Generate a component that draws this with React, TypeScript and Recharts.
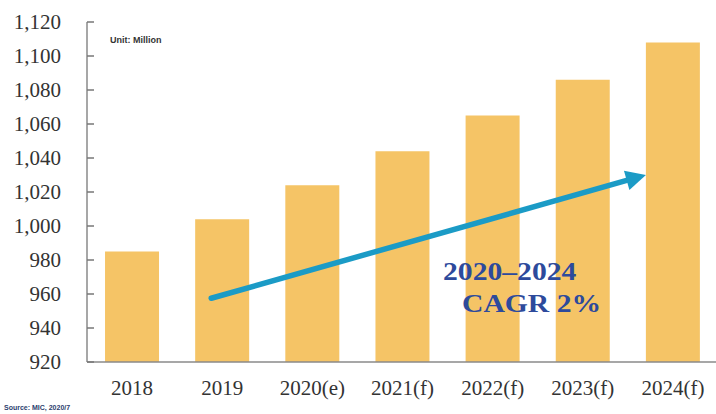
import React from 'react';
import { BarChart, Bar, XAxis, YAxis, ReferenceLine } from 'recharts';

const years = ['2018', '2019', '2020(e)', '2021(f)', '2022(f)', '2023(f)', '2024(f)'];
const units = [985, 1004, 1024, 1044, 1065, 1086, 1108];
const yTicks = [920, 940, 960, 980, 1000, 1020, 1040, 1060, 1080, 1100, 1120];
// arrow annotation: from near 2019 (low) to 2024(f)
const arrowFrom = { year: '2019', value: 957.5 };
const arrowTo = { year: '2024(f)', value: 1030 };

const data = years.map((year, i) => ({ year, units: units[i] }));

const serif = '"Liberation Serif", "DejaVu Serif", serif';

// tick lines point into the plot (negative tickSize), so labels are offset back out
const YTick = (props: any) => {
  const { x, y, payload } = props;
  return (
    <text x={x - 33} y={y} dy={7} textAnchor="end" fontFamily={serif} fontSize={21} fill="#333">
      {payload.value.toLocaleString('en-US')}
    </text>
  );
};

const Arrow = (props: any) => {
  const { x1, y1, x2, y2 } = props;
  // shift start/end to sit where the picture has them
  const sx = x1 - 11;
  const ex = x2 - 27;
  const ang = Math.atan2(y2 - y1, ex - sx);
  const len = 20;
  const half = 10;
  const bx = ex - len * Math.cos(ang);
  const by = y2 - len * Math.sin(ang);
  const px = -Math.sin(ang) * half;
  const py = Math.cos(ang) * half;
  return (
    <g>
      <line x1={sx} y1={y1} x2={bx} y2={by} stroke="#1b9bc6" strokeWidth={5.5} strokeLinecap="round" />
      <polygon points={`${ex},${y2} ${bx + px},${by + py} ${bx - px},${by - py}`} fill="#1b9bc6" />
    </g>
  );
};

const cagrStyle: React.CSSProperties = {
  position: 'absolute',
  fontFamily: serif,
  fontWeight: 700,
  fontSize: 26,
  lineHeight: '30px',
  color: '#2d4a9c',
  whiteSpace: 'nowrap',
  transform: 'scaleX(1.14)',
  transformOrigin: 'left top',
};

export default function App() {
  return (
    <div style={{ position: 'absolute', left: 0, top: 0, width: 716, height: 414, background: '#fff' }}>
      <BarChart
        width={716}
        height={414}
        data={data}
        margin={{ top: 22, right: -2, bottom: 22, left: 0 }}
        barCategoryGap="20%"
      >
        <XAxis
          dataKey="year"
          height={30}
          axisLine={{ stroke: '#8a8a8a', strokeWidth: 1.5 }}
          tickLine={false}
          tick={{ fontFamily: serif, fontSize: 21, fill: '#333' }}
          tickMargin={12}
          interval={0}
        />
        <YAxis
          width={87}
          domain={[920, 1120]}
          ticks={yTicks}
          allowDataOverflow
          axisLine={{ stroke: '#8a8a8a', strokeWidth: 1.5 }}
          tickLine={{ stroke: '#777', strokeWidth: 1.5 }}
          tickSize={-7}
          tickMargin={0}
          tick={<YTick />}
        />
        <Bar dataKey="units" fill="#f5c466" isAnimationActive={false} />
        <ReferenceLine
          segment={[
            { x: arrowFrom.year, y: arrowFrom.value },
            { x: arrowTo.year, y: arrowTo.value },
          ]}
          shape={<Arrow />}
          ifOverflow="visible"
        />
      </BarChart>
      <div style={{ position: 'absolute', left: 110, top: 35, fontFamily: '"Liberation Sans", Arial, sans-serif', fontSize: 9, fontWeight: 700, color: '#333' }}>
        Unit: Million
      </div>
      <div style={{ ...cagrStyle, left: 443, top: 257 }}>2020–2024</div>
      <div style={{ ...cagrStyle, left: 462, top: 289 }}>CAGR 2%</div>
      <div style={{ position: 'absolute', left: 4, top: 404, fontFamily: '"Liberation Sans", Arial, sans-serif', fontSize: 7, fontWeight: 700, color: '#2c3e6e' }}>
        Source: MIC, 2020/7
      </div>
    </div>
  );
}
